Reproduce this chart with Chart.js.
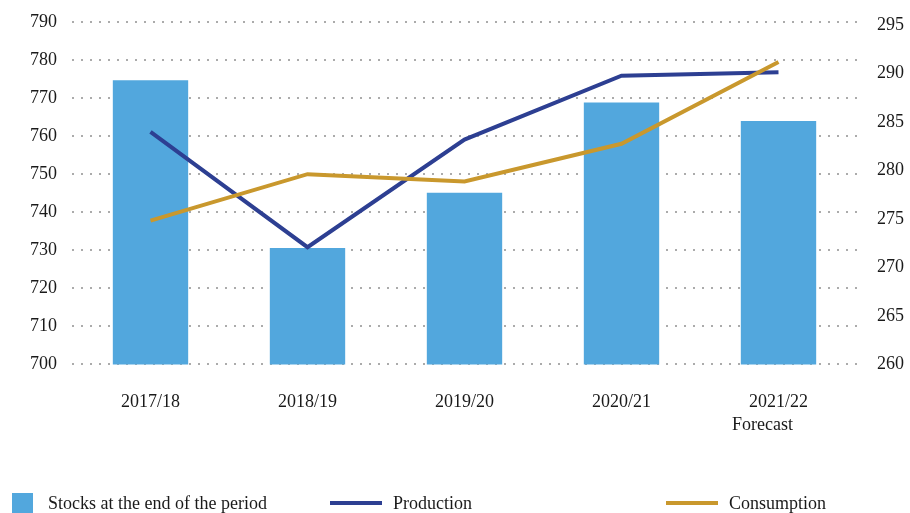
<!DOCTYPE html>
<html>
<head>
<meta charset="utf-8">
<script src="https://cdn.jsdelivr.net/npm/chart.js@4/dist/chart.umd.min.js"></script>
<style>
  html, body { margin: 0; padding: 0; background: #fff; overflow: hidden; }
  #wrap { position: relative; width: 910px; height: 513px; }
  #legend { position: absolute; left: 0; top: 0; width: 910px; height: 513px; pointer-events: none;
            font-family: "Liberation Serif", "Times New Roman", serif; font-size: 18px; color: #1a1a1a; }
  .item { position: absolute; top: 492px; height: 22px; display: flex; align-items: center; }
  .box { width: 21px; height: 21px; margin-right: 15px; }
  .ln { width: 52px; height: 4px; margin-right: 11px; }
</style>
</head>
<body>
<div id="wrap">
  <canvas id="grafico" width="910" height="513"></canvas>
  <div id="legend"></div>
</div>
<script>
// campagne (asse x)
const seasons = ['2017/18', '2018/19', '2019/20', '2020/21', '2021/22'];
const forecastNote = 'Forecast';

// scorte a fine periodo (asse destro)
const stocks = [289.3, 272.0, 277.7, 287.0, 285.1];
// produzione e consumo (asse sinistro)
const production = [761.1, 730.8, 759.1, 775.9, 776.8];
const consumption = [737.8, 750.0, 748.1, 758.0, 779.5];

// scala assi
const leftMin = 700, leftMax = 790, leftStep = 10;
const rightMin = 260, rightMax = 295.3, rightStep = 5;

const serif = '"Liberation Serif", "Times New Roman", serif';
const tickFont = { family: serif, size: 18 };

// scritta "Forecast" sotto l'ultima campagna
const forecastPlugin = {
  id: 'forecastNote',
  afterDraw(chart) {
    const x = chart.scales.x;
    const c = chart.ctx;
    c.save();
    c.font = '18px ' + serif;
    c.fillStyle = '#1a1a1a';
    c.textAlign = 'center';
    c.textBaseline = 'middle';
    c.fillText(forecastNote, x.getPixelForTick(seasons.length - 1) - 16, chart.chartArea.bottom + 61);
    c.restore();
  }
};

// larghezza fissa degli assi y, senza margine extra sopra/sotto
function fixAxis(width) {
  return function (scale) {
    scale.width = width;
    scale.paddingTop = 0;
    scale.paddingBottom = 0;
  };
}

const ctx = document.getElementById('grafico').getContext('2d');
const chart = new Chart(ctx, {
  data: {
    labels: seasons,
    datasets: [
      {
        type: 'line',
        label: 'Consumption',
        data: consumption,
        yAxisID: 'y',
        borderColor: '#c9982d',
        borderWidth: 4,
        pointRadius: 0,
        tension: 0,
        order: 0
      },
      {
        type: 'line',
        label: 'Production',
        data: production,
        yAxisID: 'y',
        borderColor: '#2d3f92',
        borderWidth: 4,
        pointRadius: 0,
        tension: 0,
        order: 1
      },
      {
        type: 'bar',
        label: 'Stocks at the end of the period',
        data: stocks,
        yAxisID: 'y1',
        backgroundColor: '#52a7dd',
        barPercentage: 0.48,
        categoryPercentage: 1,
        order: 2
      }
    ]
  },
  options: {
    responsive: false,
    animation: false,
    layout: { padding: { left: 29, right: 0, top: 22, bottom: 81 } },
    plugins: { legend: { display: false }, tooltip: { enabled: false } },
    scales: {
      x: {
        offset: true,
        grid: { display: false },
        border: { display: false },
        ticks: { color: '#1a1a1a', font: tickFont, padding: 19, maxRotation: 0 }
      },
      y: {
        position: 'left',
        min: leftMin,
        max: leftMax,
        grid: { color: '#ababab', lineWidth: 2, drawTicks: false },
        border: { display: false, dash: [2, 7] },
        ticks: { stepSize: leftStep, color: '#1a1a1a', font: tickFont, padding: 15 },
        afterFit: fixAxis(43)
      },
      y1: {
        position: 'right',
        min: rightMin,
        max: rightMax,
        grid: { display: false, drawTicks: false },
        border: { display: false },
        ticks: { stepSize: rightStep, includeBounds: false, color: '#1a1a1a', font: tickFont, padding: 20 },
        afterFit: fixAxis(53)
      }
    }
  },
  plugins: [forecastPlugin]
});

// legenda in basso, costruita dai dataset
const legendX = [12, 330, 666];
const legendOrder = [2, 1, 0];
const legendBox = document.getElementById('legend');
legendOrder.forEach(function (di, k) {
  const ds = chart.data.datasets[di];
  const item = document.createElement('div');
  item.className = 'item';
  item.style.left = legendX[k] + 'px';
  const sw = document.createElement('span');
  sw.className = ds.type === 'bar' ? 'box' : 'ln';
  sw.style.background = ds.type === 'bar' ? ds.backgroundColor : ds.borderColor;
  const txt = document.createElement('span');
  txt.textContent = ds.label;
  item.appendChild(sw);
  item.appendChild(txt);
  legendBox.appendChild(item);
});
</script>
</body>
</html>
